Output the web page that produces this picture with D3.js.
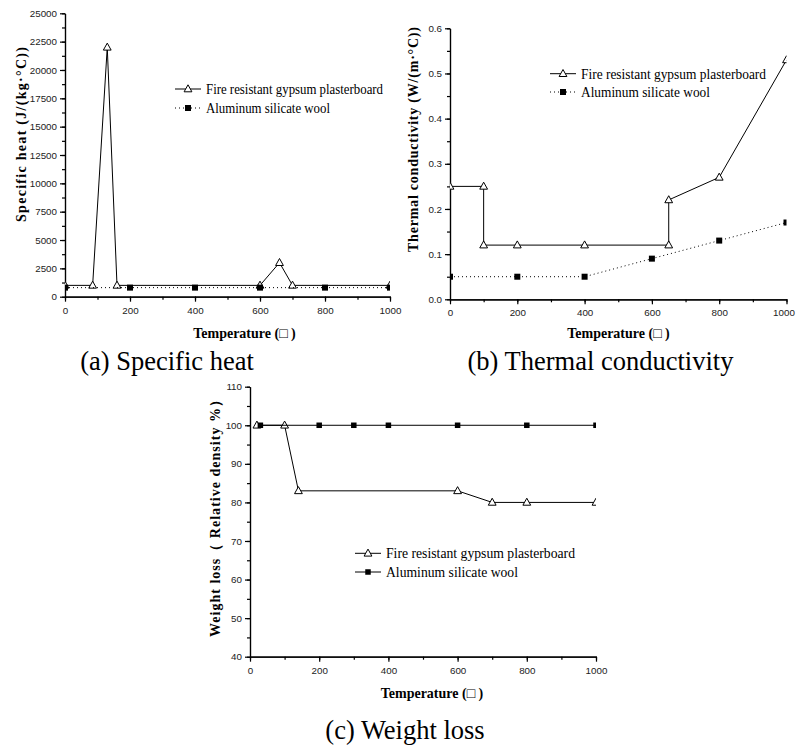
<!DOCTYPE html>
<html>
<head>
<meta charset="utf-8">
<script src="https://cdn.jsdelivr.net/npm/d3@7"></script>
<style>
  html, body { margin: 0; padding: 0; background: #fff; }
  svg { display: block; }
  .tick text { font-family: "Liberation Sans", Arial, sans-serif; font-size: 9.8px; fill: #222; }
</style>
</head>
<body>
<svg id="chart" width="796" height="746"></svg>
<script>
// ---- data ----
const tempTicks = [0, 200, 400, 600, 800, 1000];

// (a) specific heat, J/(kg·°C)
const specTicks = [0, 2500, 5000, 7500, 10000, 12500, 15000, 17500, 20000, 22500, 25000];
const specGypTemp = [0, 85, 130, 160, 600, 660, 700, 1000];
const specGyp = [1000, 1000, 22000, 1000, 1000, 3000, 1000, 1000];
const specAluTemp = [0, 200, 400, 600, 800, 1000];
const specAlu = [800, 800, 800, 800, 800, 800];

// (b) thermal conductivity, W/(m·°C)
const condTicks = [0, 0.1, 0.2, 0.3, 0.4, 0.5, 0.6];
const condGypTemp = [0, 100, 100, 200, 400, 650, 650, 800, 1000];
const condGyp = [0.25, 0.25, 0.12, 0.12, 0.12, 0.12, 0.22, 0.27, 0.53];
const condAluTemp = [0, 200, 400, 600, 800, 1000];
const condAlu = [0.05, 0.05, 0.05, 0.09, 0.13, 0.17];

// (c) weight loss, relative density %
const wtTicks = [40, 50, 60, 70, 80, 90, 100, 110];
const wtGypTemp = [20, 100, 140, 600, 700, 800, 1000];
const wtGyp = [100, 100, 83, 83, 80, 80, 80];
const wtAluTemp = [30, 200, 300, 400, 600, 800, 1000];
const wtAlu = [100, 100, 100, 100, 100, 100, 100];

const seriesNames = ["Fire resistant gypsum plasterboard", "Aluminum silicate wool"];

// ---- drawing ----
const svg = d3.select("#chart");
const SERIF = '"Liberation Serif", "Times New Roman", serif';
const zip = (xs, ys) => xs.map((x, i) => ({ x, y: ys[i] }));

const triPath = "M0,-4.2L3.9,2.8L-3.9,2.8Z";

function drawMarker(g, type, x, y, size) {
  if (type === "tri") {
    g.append("path").attr("d", triPath)
      .attr("transform", `translate(${x},${y})`)
      .attr("fill", "#fff").attr("stroke", "#000").attr("stroke-width", 1);
  } else {
    g.append("rect").attr("x", x - size / 2).attr("y", y - size / 2)
      .attr("width", size).attr("height", size).attr("fill", "#000");
  }
}

function panel(cfg, idx) {
  const g = svg.append("g");
  const x = d3.scaleLinear().domain([0, 1000]).range(cfg.xRange);
  const y = d3.scaleLinear().domain(cfg.yDomain).range(cfg.yRange);

  // axes: minor ticks first, then major ticks with labels
  const yMinor = d3.range(cfg.yDomain[0], cfg.yDomain[1] + 1e-9, cfg.yMinorStep);
  g.append("g").attr("transform", `translate(${cfg.xRange[0]},0)`)
    .call(d3.axisLeft(y).tickValues(yMinor).tickSize(3).tickFormat("").tickSizeOuter(0));
  g.append("g").attr("transform", `translate(0,${cfg.yRange[0]})`)
    .call(d3.axisBottom(x).tickValues(d3.range(0, 1001, 100)).tickSize(3).tickFormat("").tickSizeOuter(0));
  g.append("g").attr("transform", `translate(${cfg.xRange[0]},0)`)
    .call(d3.axisLeft(y).tickValues(cfg.yTicks).tickSize(5).tickPadding(3)
      .tickFormat(cfg.yFormat).tickSizeOuter(0));
  const xAxis = g.append("g").attr("transform", `translate(0,${cfg.yRange[0]})`)
    .call(d3.axisBottom(x).tickValues(tempTicks).tickSize(5).tickPadding(5)
      .tickFormat(d3.format("d")).tickSizeOuter(0));
  if (cfg.lastLabelShift) {
    xAxis.selectAll(".tick text").filter(d => d === 1000).attr("dx", cfg.lastLabelShift);
  }
  g.selectAll(".domain, .tick line").attr("stroke", "#000").attr("stroke-width", 1.2);

  // plot area clip
  const clipId = "clip" + idx;
  g.append("clipPath").attr("id", clipId).append("rect")
    .attr("x", cfg.xRange[0]).attr("y", cfg.yRange[1] - 10)
    .attr("width", cfg.xRange[1] - cfg.xRange[0])
    .attr("height", cfg.yRange[0] - cfg.yRange[1] + 20);
  const plot = g.append("g").attr("clip-path", `url(#${clipId})`);

  const line = d3.line().x(d => x(d.x)).y(d => y(d.y));
  cfg.series.forEach(s => {
    const pts = zip(s.xs, s.ys);
    plot.append("path").datum(pts).attr("d", line)
      .attr("fill", "none").attr("stroke", "#000").attr("stroke-width", 1)
      .attr("stroke-dasharray", s.dash || null);
    pts.forEach(p => drawMarker(plot, s.marker, x(p.x), y(p.y), s.size));
  });

  // legend
  const lg = g.append("g");
  cfg.series.forEach((s, i) => {
    const ly = cfg.legend.y[i];
    const lx = cfg.legend.x;
    lg.append("line").attr("x1", lx).attr("x2", lx + 26).attr("y1", ly).attr("y2", ly)
      .attr("stroke", "#000").attr("stroke-width", 1).attr("stroke-dasharray", s.dash || null);
    drawMarker(lg, s.marker, lx + 13, ly, s.size);
    lg.append("text").attr("x", lx + 31).attr("y", ly).attr("dy", "0.35em")
      .attr("font-family", SERIF).attr("font-size", 14.5)
      .attr("textLength", cfg.legend.len[i]).attr("lengthAdjust", "spacingAndGlyphs")
      .text(seriesNames[i]);
  });

  // axis titles
  g.append("text")
    .attr("transform", `translate(${cfg.yTitle.x},${cfg.yTitle.cy}) rotate(-90)`)
    .attr("text-anchor", "middle").attr("font-family", SERIF)
    .attr("font-weight", "bold").attr("font-size", 14)
    .attr("textLength", cfg.yTitle.len)
    .text(cfg.yTitle.text);
  g.append("text").attr("x", cfg.xTitle.cx).attr("y", cfg.xTitle.y)
    .attr("text-anchor", "middle").attr("font-family", SERIF)
    .attr("font-weight", "bold").attr("font-size", 14)
    .text("Temperature (□ )");

  // caption
  g.append("text").attr("x", cfg.caption.cx).attr("y", cfg.caption.y)
    .attr("text-anchor", "middle").attr("font-family", SERIF).attr("font-size", 26.5)
    .text(cfg.caption.text);
}

panel({
  xRange: [65, 390], yDomain: [0, 25000], yRange: [296.7, 13.3], yMinorStep: 1250,
  yTicks: specTicks, yFormat: d3.format("d"),
  series: [
    { xs: specGypTemp, ys: specGyp, marker: "tri" },
    { xs: specAluTemp, ys: specAlu, marker: "sq", size: 6, dash: "1,3" }
  ],
  legend: { x: 175, y: [89, 108], len: [177, 124] },
  yTitle: { x: 26, cy: 134.5, len: 175, text: "Specific heat  (J/(kg·°C))" },
  xTitle: { cx: 244.5, y: 338 },
  caption: { cx: 167, y: 370, text: "(a) Specific heat" }
}, 0);

panel({
  xRange: [450, 786.5], yDomain: [0, 0.6], yRange: [299.3, 28.3], yMinorStep: 0.05,
  yTicks: condTicks, yFormat: d3.format(".1f"), lastLabelShift: -3,
  series: [
    { xs: condGypTemp, ys: condGyp, marker: "tri" },
    { xs: condAluTemp, ys: condAlu, marker: "sq", size: 6, dash: "1,3" }
  ],
  legend: { x: 550, y: [73.7, 92], len: [185, 129] },
  yTitle: { x: 418, cy: 139.5, len: 225, text: "Thermal conductivity (W/(m·°C))" },
  xTitle: { cx: 618.5, y: 338 },
  caption: { cx: 600.5, y: 370, text: "(b) Thermal conductivity" }
}, 1);

panel({
  xRange: [250, 596], yDomain: [40, 110], yRange: [656.7, 386.7], yMinorStep: 5,
  yTicks: wtTicks, yFormat: d3.format("d"),
  series: [
    { xs: wtGypTemp, ys: wtGyp, marker: "tri" },
    { xs: wtAluTemp, ys: wtAlu, marker: "sq", size: 5.5 }
  ],
  legend: { x: 355, y: [553.3, 572], len: [189, 132] },
  yTitle: { x: 220, cy: 515, len: 244, text: "Weight loss（ Relative density %）" },
  xTitle: { cx: 432, y: 698 },
  caption: { cx: 405, y: 739, text: "(c) Weight loss" }
}, 2);
</script>
</body>
</html>
